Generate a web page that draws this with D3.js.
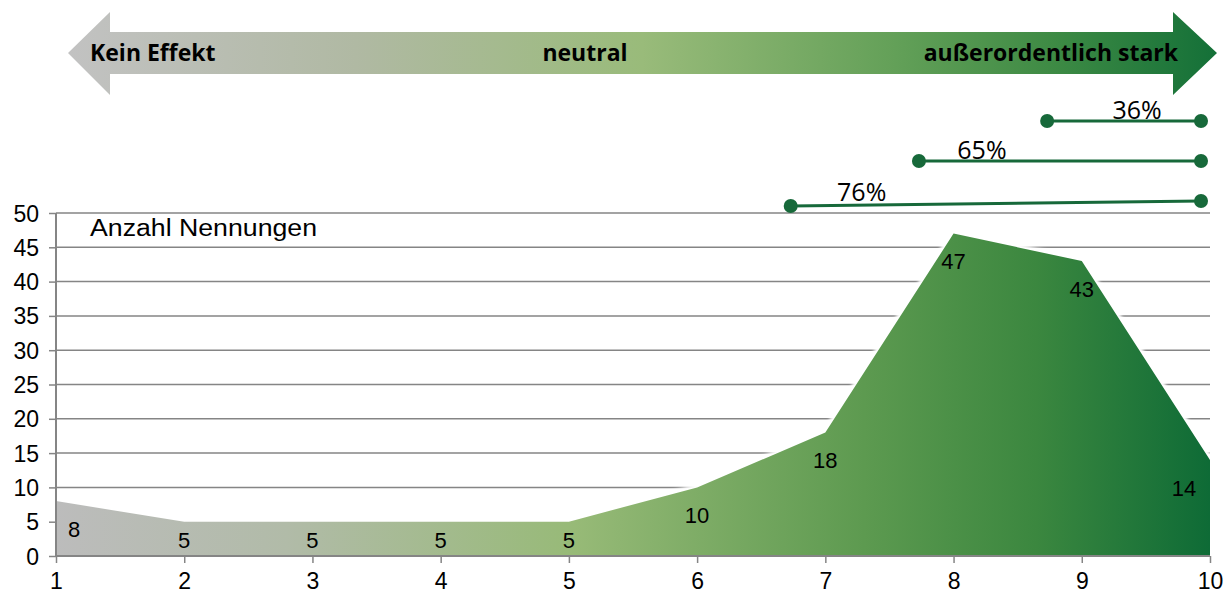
<!DOCTYPE html>
<html><head><meta charset="utf-8">
<script src="https://cdn.jsdelivr.net/npm/d3@7"></script>
<style>html,body{margin:0;padding:0;background:#fff;}svg{display:block;}</style>
</head><body>
<svg id="c" width="1227" height="593"></svg>
<script>
// ---- data ----
const categories = [1,2,3,4,5,6,7,8,9,10];
const values = [8,5,5,5,5,10,18,47,43,14];
const yTicks = [0,5,10,15,20,25,30,35,40,45,50];
const scaleLabels = ["Kein Effekt","neutral","außerordentlich stark"];
const bracketStarts = [9,8,7];
const seriesTitle = "Anzahl Nennungen";

// ---- layout ----
const svg = d3.select("#c");
const x = d3.scaleLinear().domain([1,10]).range([56,1210]);
const y = d3.scaleLinear().domain([0,50]).range([556,213]);
const defs = svg.append("defs");
const sans = "'Liberation Sans', Arial, sans-serif";

const ag = defs.append("linearGradient").attr("id","areaGrad")
  .attr("gradientUnits","userSpaceOnUse").attr("x1",56).attr("x2",1210).attr("y1",0).attr("y2",0);
[[0,"#bcbcbc"],[0.2,"#b1bba8"],[0.45,"#97ba77"],[0.7,"#5d9a50"],[0.85,"#3b873f"],[1,"#0e6b36"]]
  .forEach(([o,c])=>ag.append("stop").attr("offset",o).attr("stop-color",c));
const arg = defs.append("linearGradient").attr("id","arrowGrad")
  .attr("gradientUnits","userSpaceOnUse").attr("x1",68).attr("x2",1217).attr("y1",0).attr("y2",0);
[[0,"#c2c2c2"],[0.25,"#b0b9a3"],[0.5,"#99bb7a"],[0.72,"#63a058"],[0.86,"#3d8a44"],[1,"#147038"]]
  .forEach(([o,c])=>arg.append("stop").attr("offset",o).attr("stop-color",c));
const glow = defs.append("filter").attr("id","glow").attr("x","-5%").attr("y","-10%").attr("width","110%").attr("height","120%");
glow.append("feGaussianBlur").attr("stdDeviation",1.5);

// arrow
const aL=68, aR=1217, aBL=110, aBR=1173, aMid=53, bodyT=32, bodyB=74, headT=12, headB=95;
svg.append("path")
  .attr("d",`M${aL},${aMid} L${aBL},${headT} L${aBL},${bodyT} L${aBR},${bodyT} L${aBR},${headT} L${aR},${aMid} L${aBR},${headB} L${aBR},${bodyB} L${aBL},${bodyB} L${aBL},${headB} Z`)
  .attr("fill","url(#arrowGrad)");
const arrowFont = "'Open Sans', sans-serif";
[[90,"start",0],[585,"middle",1],[1178,"end",2]].forEach(([tx,anchor,i])=>{
  svg.append("text").attr("x",tx).attr("y",61).attr("text-anchor",anchor).attr("font-family",arrowFont)
    .attr("font-weight",700).attr("font-size",23).attr("fill","#000").text(scaleLabels[i]);
});

// gridlines
const axisCol = "#858585";
svg.append("g").selectAll("line").data(yTicks.slice(1)).join("line")
  .attr("x1",56).attr("x2",1210).attr("y1",d=>y(d)).attr("y2",d=>y(d))
  .attr("stroke",axisCol).attr("stroke-width",1.5);

// area
const area = d3.area().x((d,i)=>x(categories[i])).y0(y(0)).y1(d=>y(d));
const line = d3.line().x((d,i)=>x(categories[i])).y(d=>y(d));
svg.append("path").datum(values).attr("d",line).attr("fill","none")
  .attr("stroke","#fff").attr("stroke-width",7).attr("filter","url(#glow)");
svg.append("path").datum(values).attr("d",area).attr("fill","url(#areaGrad)");

// axes
const yAxis = d3.axisLeft(y).tickValues(yTicks).tickSize(7).tickPadding(10);
const gy = svg.append("g").attr("transform","translate(56,0)").call(yAxis);
const xAxis = d3.axisBottom(x).tickValues(categories).tickSize(7).tickPadding(8);
const gx = svg.append("g").attr("transform",`translate(0,${y(0)})`).call(xAxis);
[gy,gx].forEach(g=>{
  g.select(".domain").attr("stroke",axisCol).attr("stroke-width",2);
  g.selectAll(".tick line").attr("stroke",axisCol).attr("stroke-width",1.5);
  g.selectAll("text").attr("font-family",sans).attr("font-size",23).attr("fill","#000");
});
gy.select(".domain").attr("d","M0,556V213");
gx.select(".domain").attr("d","M56,0H1210");
gy.selectAll("text").attr("dy","0.35em");
gx.selectAll("text").attr("dy","0.8em");

// series title
svg.append("text").attr("x",90).attr("y",236).attr("font-family",sans)
  .attr("font-size",23).attr("textLength",227).attr("lengthAdjust","spacingAndGlyphs")
  .attr("fill","#000").text(seriesTitle);

// data labels
svg.append("g").selectAll("text").data(values).join("text")
  .attr("x",(d,i)=>Math.max(x(1)+18, Math.min(x(10)-26, x(categories[i]))))
  .attr("y",(d,i)=>Math.min(y(d)+28, y(0)-16))
  .attr("dy","0.35em").attr("text-anchor","middle")
  .attr("font-family",sans).attr("font-size",22).attr("fill","#000")
  .text(d=>d);

// brackets
const total = d3.sum(values);
const bracketRows = [121,161,203];
const labelShift = [90,63,71];
const green = "#17693a";
const gb = svg.append("g");
bracketStarts.forEach((s,k)=>{
  const share = d3.sum(values.filter((v,i)=>categories[i]>=s))/total;
  const x1 = x(s-0.27), x2 = x(9.93), yy = bracketRows[k];
  const yStart = k===2 ? yy+3 : yy, yEnd = k===2 ? yy-2 : yy;
  gb.append("line").attr("x1",x1).attr("x2",x2).attr("y1",yStart).attr("y2",yEnd)
    .attr("stroke",green).attr("stroke-width",3);
  gb.append("circle").attr("cx",x1).attr("cy",yStart).attr("r",7).attr("fill",green);
  gb.append("circle").attr("cx",x2).attr("cy",yEnd).attr("r",7).attr("fill",green);
  gb.append("text").attr("x",x1+labelShift[k]).attr("y",yy-2).attr("text-anchor","middle")
    .attr("font-family","'Open Sans', sans-serif").attr("font-size",25).attr("fill","#000")
    .text(Math.round(share*100)+"%");
});
</script>
</body></html>
